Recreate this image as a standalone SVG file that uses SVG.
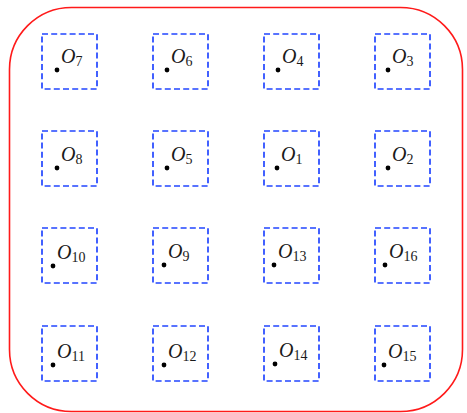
<svg xmlns="http://www.w3.org/2000/svg" width="467" height="413" viewBox="0 0 467 413">
<style>
.box{fill:none;stroke:#2246ff;stroke-width:1.7;stroke-dasharray:6 3.2}
.dot{fill:#000}
.O{font-family:"Liberation Serif",serif;font-style:italic;font-size:20px;fill:#1a1a1a}
.s{font-family:"Liberation Serif",serif;font-size:14px;fill:#1a1a1a}
</style>
<rect x="9.5" y="7.5" width="453" height="404" rx="62" ry="62" fill="none" stroke="#ff1a1a" stroke-width="1.6"/>
<g id="connectors"/>
<g id="n7"><rect class="box" x="42" y="34" width="55" height="55"/><circle class="dot" cx="57" cy="70" r="2.4"/><text x="61" y="63"><tspan class="O">O</tspan><tspan class="s" dy="3">7</tspan></text></g>
<g id="n6"><rect class="box" x="153" y="34" width="55" height="55"/><circle class="dot" cx="167" cy="70" r="2.4"/><text x="171" y="63"><tspan class="O">O</tspan><tspan class="s" dy="3">6</tspan></text></g>
<g id="n4"><rect class="box" x="264" y="34" width="55" height="55"/><circle class="dot" cx="278" cy="70" r="2.4"/><text x="282" y="63"><tspan class="O">O</tspan><tspan class="s" dy="3">4</tspan></text></g>
<g id="n3"><rect class="box" x="375" y="34" width="55" height="55"/><circle class="dot" cx="388" cy="70" r="2.4"/><text x="392" y="63"><tspan class="O">O</tspan><tspan class="s" dy="3">3</tspan></text></g>

<g id="n8"><rect class="box" x="42" y="131" width="55" height="55"/><circle class="dot" cx="57" cy="168" r="2.4"/><text x="61" y="161"><tspan class="O">O</tspan><tspan class="s" dy="3">8</tspan></text></g>
<g id="n5"><rect class="box" x="153" y="131" width="55" height="55"/><circle class="dot" cx="167" cy="168" r="2.4"/><text x="171" y="161"><tspan class="O">O</tspan><tspan class="s" dy="3">5</tspan></text></g>
<g id="n1"><rect class="box" x="264" y="131" width="55" height="55"/><circle class="dot" cx="277" cy="168" r="2.4"/><text x="281" y="161"><tspan class="O">O</tspan><tspan class="s" dy="3">1</tspan></text></g>
<g id="n2"><rect class="box" x="375" y="131" width="55" height="55"/><circle class="dot" cx="388" cy="168" r="2.4"/><text x="392" y="161"><tspan class="O">O</tspan><tspan class="s" dy="3">2</tspan></text></g>

<g id="n10"><rect class="box" x="42" y="228" width="55" height="55"/><circle class="dot" cx="53" cy="266" r="2.4"/><text x="57" y="259"><tspan class="O">O</tspan><tspan class="s" dy="3">10</tspan></text></g>
<g id="n9"><rect class="box" x="153" y="228" width="55" height="55"/><circle class="dot" cx="164" cy="265" r="2.4"/><text x="168" y="258"><tspan class="O">O</tspan><tspan class="s" dy="3">9</tspan></text></g>
<g id="n13"><rect class="box" x="264" y="228" width="55" height="55"/><circle class="dot" cx="274" cy="265" r="2.4"/><text x="278" y="258"><tspan class="O">O</tspan><tspan class="s" dy="3">13</tspan></text></g>
<g id="n16"><rect class="box" x="375" y="228" width="55" height="55"/><circle class="dot" cx="385" cy="265" r="2.4"/><text x="389" y="258"><tspan class="O">O</tspan><tspan class="s" dy="3">16</tspan></text></g>

<g id="n11"><rect class="box" x="42" y="326" width="55" height="55"/><circle class="dot" cx="53" cy="365" r="2.4"/><text x="57" y="358"><tspan class="O">O</tspan><tspan class="s" dy="3">11</tspan></text></g>
<g id="n12"><rect class="box" x="153" y="326" width="55" height="55"/><circle class="dot" cx="164" cy="365" r="2.4"/><text x="168" y="358"><tspan class="O">O</tspan><tspan class="s" dy="3">12</tspan></text></g>
<g id="n14"><rect class="box" x="264" y="326" width="55" height="55"/><circle class="dot" cx="275" cy="364" r="2.4"/><text x="279" y="357"><tspan class="O">O</tspan><tspan class="s" dy="3">14</tspan></text></g>
<g id="n15"><rect class="box" x="375" y="326" width="55" height="55"/><circle class="dot" cx="384" cy="365" r="2.4"/><text x="388" y="358"><tspan class="O">O</tspan><tspan class="s" dy="3">15</tspan></text></g>
</svg>
